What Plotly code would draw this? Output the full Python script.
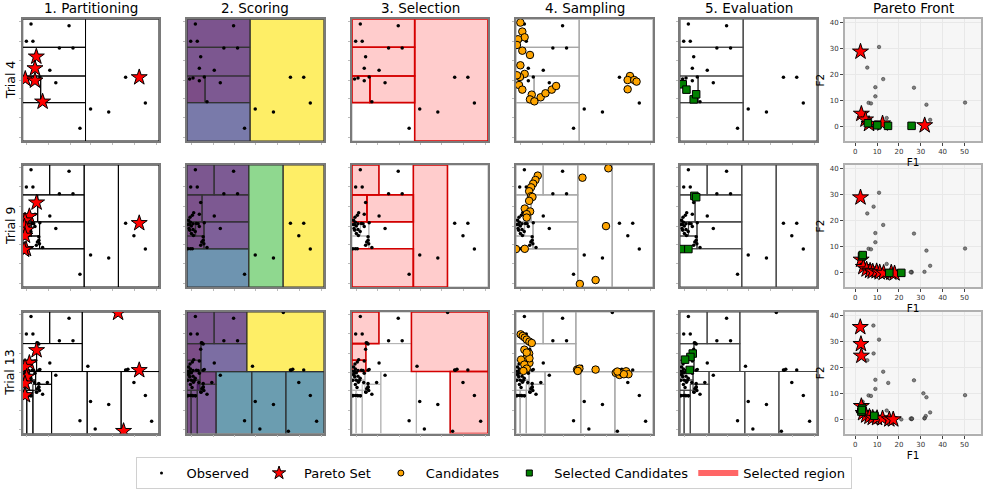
import plotly.graph_objects as go
from plotly.colors import sample_colorscale

# ---------------- text ----------------
col_titles = ["1. Partitioning", "2. Scoring", "3. Selection", "4. Sampling", "5. Evaluation", "Pareto Front"]
row_titles = ["Trial 4", "Trial 9", "Trial 13"]
legend_names = ["Observed", "Pareto Set", "Candidates", "Selected Candidates", "Selected region"]
design_ticks = [0.03, 0.19, 0.35, 0.50, 0.66, 0.82, 0.98]
f1_ticks = [0, 10, 20, 30, 40, 50]
f2_ticks = [0, 10, 20, 30, 40]

# ---------------- Trial 4 ----------------
t4_obs_x = [0.061, 0.340, 0.027, 0.075, 0.269, 0.369, 0.100, 0.090, 0.199, 0.019, 0.044, 0.090, 0.126, 0.243,
            0.146, 0.420, 0.498, 0.631, 0.755, 0.852, 0.900]
t4_obs_y = [0.962, 0.948, 0.819, 0.819, 0.764, 0.764, 0.693, 0.597, 0.581, 0.510, 0.518, 0.496, 0.526, 0.479,
            0.323, 0.104, 0.263, 0.238, 0.523, 0.523, 0.312]
t4_par_x = [0.100, 0.090, 0.019, 0.090, 0.146, 0.855]
t4_par_y = [0.693, 0.597, 0.510, 0.496, 0.323, 0.523]
t4_cand_x = [0.032, 0.046, 0.063, 0.015, 0.007, 0.046, 0.102, 0.032, 0.063, 0.029, 0.007, 0.022, 0.046, 0.115,
             0.102, 0.134, 0.180, 0.215, 0.261, 0.293, 0.832, 0.815, 0.863, 0.880, 0.815]
t4_cand_y = [0.973, 0.899, 0.852, 0.836, 0.789, 0.742, 0.707, 0.622, 0.551, 0.526, 0.540, 0.460, 0.422, 0.381,
             0.342, 0.326, 0.359, 0.392, 0.422, 0.452, 0.534, 0.501, 0.501, 0.488, 0.425]
t4_sel_x = [0.020, 0.047, 0.100, 0.118]
t4_sel_y = [0.466, 0.422, 0.342, 0.384]
t4_box_x0 = [0.000, 0.000, 0.000, 0.132, 0.000, 0.461]
t4_box_x1 = [0.461, 0.461, 0.132, 0.461, 0.461, 1.000]
t4_box_y0 = [0.770, 0.534, 0.315, 0.315, 0.000, 0.000]
t4_box_y1 = [1.000, 0.770, 0.534, 0.534, 0.315, 1.000]
t4_box_score = [0.03, 0.04, 0.00, 0.05, 0.20, 1.00]
t4_box_sel = [True, True, True, True, False, True]
t4_obs_f1 = [10.9, 5.5, 12.8, 9.2, 9.2, 6.1, 7.2, 14.4, 26.9, 32.6, 34.3, 50.3, 3.0, 5.0]
t4_obs_f2 = [30.6, 22.7, 18.3, 15.2, 11.7, 9.2, 9.0, 3.4, 15.0, 8.5, 2.7, 9.3, 4.0, 2.0]
t4_par_f1 = [2.4, 2.8, 4.7, 6.3, 12.5, 31.8]
t4_par_f2 = [28.8, 5.0, 2.8, 1.1, 1.3, 0.6]
t4_sel_f1 = [5.8, 10.1, 15.0, 25.8]
t4_sel_f2 = [1.4, 0.6, 0.4, 0.4]

# ---------------- Trial 9 ----------------
t9_obs_x = t4_obs_x + t4_sel_x + [0.049, 0.039, 0.022, 0.012, 0.025, 0.010, 0.032, 0.015, 0.044, 0.069, 0.032,
                                  0.118, 0.108, 0.123, 0.007, 0.025, 0.039, 0.081, 0.816, 0.060]
t9_obs_y = t4_obs_y + t4_sel_y + [0.608, 0.589, 0.572, 0.548, 0.531, 0.512, 0.499, 0.480, 0.471, 0.520, 0.439,
                                  0.411, 0.368, 0.354, 0.313, 0.313, 0.313, 0.518, 0.420, 0.455]
t9_par_x = [0.102, 0.049, 0.017, 0.012, 0.029, 0.017, 0.024, 0.010, 0.855]
t9_par_y = [0.692, 0.580, 0.545, 0.496, 0.469, 0.420, 0.311, 0.305, 0.523]
t9_cand_x = [0.159, 0.142, 0.125, 0.110, 0.096, 0.110, 0.120, 0.096, 0.064, 0.103, 0.078, 0.078, 0.000, 0.064,
             0.485, 0.674, 0.657, 0.581, 0.466]
t9_cand_y = [0.913, 0.877, 0.847, 0.817, 0.785, 0.744, 0.738, 0.706, 0.643, 0.619, 0.597, 0.569, 0.311, 0.313,
             0.896, 0.973, 0.499, 0.057, 0.025]
t9_sel_x = [0.105, 0.118, 0.007, 0.061]
t9_sel_y = [0.747, 0.736, 0.311, 0.311]
t9_box_x0 = [0.000, 0.198, 0.000, 0.110, 0.124, 0.000, 0.062, 0.000, 0.000, 0.451, 0.702]
t9_box_x1 = [0.198, 0.451, 0.110, 0.451, 0.451, 0.062, 0.124, 0.124, 0.451, 0.702, 1.000]
t9_box_y0 = [0.755, 0.755, 0.534, 0.534, 0.313, 0.418, 0.418, 0.313, 0.000, 0.000, 0.000]
t9_box_y1 = [1.000, 1.000, 0.755, 0.755, 0.534, 0.534, 0.534, 0.418, 0.313, 1.000, 1.000]
t9_box_score = [0.04, 0.06, 0.02, 0.05, 0.08, 0.00, 0.01, 0.02, 0.33, 0.75, 1.00]
t9_box_sel = [True, False, True, True, False, False, False, False, True, True, False]
t9_obs_f1 = t4_obs_f1 + t4_sel_f1 + [8.4, 25.8, 25.4, 31.7, 4.5, 5.5, 6.5, 7.5, 8.5, 9.5, 11.0, 12.0, 13.5,
                                     14.5, 17.0, 3.5, 12.5, 6.3, 4.7]
t9_obs_f2 = t4_obs_f2 + t4_sel_f2 + [25.3, 0.1, 0.3, 0.4, 1.8, 0.9, 0.5, 1.5, 0.3, 1.2, 0.3, 0.9, 0.2,
                                     0.6, 0.3, 3.5, 1.3, 1.1, 2.8]
t9_par_f1 = [2.4, 2.7, 3.7, 5.2, 6.8, 8.0, 9.8, 11.2, 13.0, 16.5, 18.0]
t9_par_f2 = [28.8, 5.0, 2.2, 1.3, 0.8, 0.5, 0.6, 0.2, 0.0, 0.1, -0.2]
t9_sel_f1 = [3.1, 3.4, 15.6, 21.1]
t9_sel_f2 = [6.3, 6.8, 0.0, 0.0]

# ---------------- Trial 13 ----------------
t13_obs_x = t9_obs_x + t9_sel_x + [0.703, 0.478, 0.760, 0.772, 0.946, 0.740, 0.532, 0.110, 0.118, 0.056, 0.118,
                                   0.103, 0.061, 0.044, 0.037, 0.025, 0.007, 0.181, 0.086, 0.012]
t13_obs_y = t9_obs_y + t9_sel_y + [0.995, 0.553, 0.521, 0.529, 0.101, 0.019, 0.038, 0.745, 0.521, 0.438, 0.378,
                                   0.340, 0.310, 0.310, 0.378, 0.403, 0.438, 0.419, 0.419, 0.488]
t13_par_x = [0.700, 0.102, 0.049, 0.017, 0.029, 0.017, 0.017, 0.855, 0.740]
t13_par_y = [0.993, 0.685, 0.581, 0.548, 0.466, 0.411, 0.315, 0.521, 0.020]
t13_cand_x = [0.034, 0.049, 0.064, 0.078, 0.098, 0.115, 0.061, 0.096, 0.078, 0.037, 0.098, 0.061, 0.078, 0.054,
              0.098, 0.078, 0.446, 0.463, 0.451, 0.581, 0.728, 0.755, 0.777, 0.804, 0.821, 0.787, 0.740]
t13_cand_y = [0.816, 0.803, 0.789, 0.773, 0.756, 0.745, 0.690, 0.658, 0.625, 0.608, 0.581, 0.567, 0.534, 0.515,
              0.619, 0.666, 0.526, 0.534, 0.515, 0.526, 0.499, 0.482, 0.499, 0.512, 0.488, 0.488, 0.510]
t13_sel_x = [0.093, 0.076, 0.037, 0.071]
t13_sel_y = [0.658, 0.630, 0.608, 0.523]
t13_box_x0 = [0.000, 0.198, 0.000, 0.000, 0.102, 0.437, 0.212, 0.473, 0.722, 0.095, 0.075, 0.000, 0.000, 0.000, 0.030]
t13_box_x1 = [0.198, 0.437, 0.102, 0.102, 0.437, 1.000, 0.473, 0.722, 1.000, 0.212, 0.212, 0.095, 0.095, 0.030, 0.075]
t13_box_y0 = [0.740, 0.740, 0.603, 0.510, 0.510, 0.510, 0.000, 0.000, 0.000, 0.405, 0.000, 0.440, 0.356, 0.000, 0.000]
t13_box_y1 = [1.000, 1.000, 0.740, 0.603, 0.740, 1.000, 0.510, 0.510, 0.510, 0.510, 0.405, 0.510, 0.440, 0.356, 0.356]
t13_box_score = [0.04, 0.06, 0.00, 0.03, 0.14, 1.00, 0.38, 0.38, 0.38, 0.00, 0.08, 0.02, 0.03, 0.02, 0.05]
t13_box_sel = [True, False, True, True, False, True, False, False, True, False, False, False, False, False, False]
t13_obs_f1 = t9_obs_f1 + t9_sel_f1 + [8.3, 15.1, 31.2, 32.3, 31.8, 26.0, 7.0, 9.0, 10.5, 12.0, 14.0]
t13_obs_f2 = t9_obs_f2 + t9_sel_f2 + [36.0, 14.0, 10.0, 1.3, 0.5, 0.3, 0.4, 0.3, 0.2, 0.1, 0.2]
t13_par_f1 = [2.3, 2.6, 2.8, 2.8, 3.6, 5.0, 6.5, 8.0, 10.0, 12.5, 15.6, 17.4]
t13_par_f2 = [35.4, 28.9, 24.4, 5.1, 2.4, 1.5, 1.0, 0.6, 0.5, 0.4, 0.0, 0.0]
t13_sel_f1 = [2.8, 3.2, 3.0, 8.7]
t13_sel_f2 = [3.0, 4.2, 3.6, 1.4]

TRIALS = [
    dict(ox=t4_obs_x, oy=t4_obs_y, px=t4_par_x, py=t4_par_y, cx=t4_cand_x, cy=t4_cand_y, sx=t4_sel_x, sy=t4_sel_y,
         bx0=t4_box_x0, bx1=t4_box_x1, by0=t4_box_y0, by1=t4_box_y1, bs=t4_box_score, bsel=t4_box_sel,
         of1=t4_obs_f1, of2=t4_obs_f2, pf1=t4_par_f1, pf2=t4_par_f2, sf1=t4_sel_f1, sf2=t4_sel_f2),
    dict(ox=t9_obs_x, oy=t9_obs_y, px=t9_par_x, py=t9_par_y, cx=t9_cand_x, cy=t9_cand_y, sx=t9_sel_x, sy=t9_sel_y,
         bx0=t9_box_x0, bx1=t9_box_x1, by0=t9_box_y0, by1=t9_box_y1, bs=t9_box_score, bsel=t9_box_sel,
         of1=t9_obs_f1, of2=t9_obs_f2, pf1=t9_par_f1, pf2=t9_par_f2, sf1=t9_sel_f1, sf2=t9_sel_f2),
    dict(ox=t13_obs_x, oy=t13_obs_y, px=t13_par_x, py=t13_par_y, cx=t13_cand_x, cy=t13_cand_y, sx=t13_sel_x,
         sy=t13_sel_y, bx0=t13_box_x0, bx1=t13_box_x1, by0=t13_box_y0, by1=t13_box_y1, bs=t13_box_score,
         bsel=t13_box_sel, of1=t13_obs_f1, of2=t13_obs_f2, pf1=t13_par_f1, pf2=t13_par_f2, sf1=t13_sel_f1,
         sf2=t13_sel_f2),
]

# ---------------- layout geometry ----------------
W, H = 987, 493
COL_PX = [(22.7, 159), (187, 324), (352, 488), (516, 653), (680, 817), (845, 981)]
ROW_PX = [(19.3, 141), (165, 287), (312, 433.5)]
FONT = "DejaVu Sans"


def names(idx):
    return ("x" if idx == 1 else f"x{idx}", "y" if idx == 1 else f"y{idx}")


def viridis_rgba(s, a=0.7):
    c = sample_colorscale("Viridis", [s])[0]
    return c.replace("rgb(", "rgba(").replace(")", f",{a})")


fig = go.Figure()
layout = dict(width=W, height=H, margin=dict(l=0, r=0, t=0, b=0, autoexpand=False), paper_bgcolor="white",
              plot_bgcolor="white", font=dict(family=FONT, color="black"), showlegend=True)
shapes = []
annotations = []

for r, T in enumerate(TRIALS):
    for c in range(6):
        idx = r * 6 + c + 1
        xa, ya = names(idx)
        xk = "xaxis" if idx == 1 else f"xaxis{idx}"
        yk = "yaxis" if idx == 1 else f"yaxis{idx}"
        xd = [COL_PX[c][0] / W, COL_PX[c][1] / W]
        yd = [1 - ROW_PX[r][1] / H, 1 - ROW_PX[r][0] / H]
        if c < 5:
            common = dict(showgrid=False, zeroline=False, showticklabels=False, ticks="outside", ticklen=2,
                          tickcolor="#bbbbbb", tickwidth=1, tickvals=design_ticks, showline=True, mirror=True,
                          linecolor="#7a7a7a", linewidth=1.5, range=[0, 1], fixedrange=True, automargin=False)
            layout[xk] = dict(domain=xd, anchor=ya, **common)
            layout[yk] = dict(domain=yd, anchor=xa, **common)
            n = len(T["bx0"])
            order = list(range(n))
            if c == 2:
                order = [i for i in range(n) if not T["bsel"][i]] + [i for i in range(n) if T["bsel"][i]]
            for i in order:
                sh = dict(type="rect", xref=xa, yref=ya, x0=T["bx0"][i], x1=T["bx1"][i], y0=T["by0"][i],
                          y1=T["by1"][i], layer="below")
                if c == 0:
                    sh.update(fillcolor="rgba(0,0,0,0)", line=dict(color="black", width=1))
                elif c == 1:
                    sh.update(fillcolor=viridis_rgba(T["bs"][i]), line=dict(color="#333333", width=1.2))
                elif c == 2:
                    if T["bsel"][i]:
                        sh.update(fillcolor="rgba(255,0,0,0.2)", line=dict(color="#d40000", width=1.6))
                    else:
                        sh.update(fillcolor="rgba(0,0,0,0)", line=dict(color="#b5b5b5", width=1))
                elif c == 3:
                    sh.update(fillcolor="rgba(0,0,0,0)", line=dict(color="#a8a8a8", width=1.2))
                else:
                    sh.update(fillcolor="rgba(0,0,0,0)", line=dict(color="#444444", width=1.1))
                shapes.append(sh)
            fig.add_trace(go.Scatter(x=T["ox"], y=T["oy"], mode="markers", xaxis=xa, yaxis=ya, showlegend=False,
                                     hoverinfo="skip", marker=dict(size=3.5, color="black")))
            if c == 0:
                fig.add_trace(go.Scatter(x=T["px"], y=T["py"], mode="markers", xaxis=xa, yaxis=ya,
                                         showlegend=False, hoverinfo="skip",
                                         marker=dict(symbol="star", size=12, color="red",
                                                     line=dict(color="black", width=1))))
            elif c == 3:
                fig.add_trace(go.Scatter(x=T["cx"], y=T["cy"], mode="markers", xaxis=xa, yaxis=ya,
                                         showlegend=False, hoverinfo="skip",
                                         marker=dict(symbol="circle", size=7.5, color="#FFA500",
                                                     line=dict(color="black", width=1))))
            elif c == 4:
                fig.add_trace(go.Scatter(x=T["sx"], y=T["sy"], mode="markers", xaxis=xa, yaxis=ya,
                                         showlegend=False, hoverinfo="skip",
                                         marker=dict(symbol="square", size=7.5, color="#008000",
                                                     line=dict(color="black", width=1))))
        else:
            pc = dict(zeroline=False, showline=True, mirror=True, linecolor="#b0b0b0", linewidth=2,
                      showgrid=True, gridcolor="#e8e8e8", gridwidth=0.6, ticks="outside", ticklen=3,
                      tickcolor="#444444", tickfont=dict(size=7, color="#333333"), fixedrange=True,
                      automargin=False)
            layout[xk] = dict(domain=xd, anchor=ya, range=[-4.7, 57.6], tickvals=f1_ticks,
                              title=dict(text="F1", font=dict(size=10.5), standoff=2), **pc)
            layout[yk] = dict(domain=yd, anchor=xa, range=[-5.4, 41.2], tickvals=f2_ticks,
                              title=dict(text="F2", font=dict(size=10.5), standoff=3), **pc)
            shapes.append(dict(type="rect", xref=f"{xa} domain", yref=f"{ya} domain", x0=0, x1=1, y0=0, y1=1,
                               fillcolor="#f6f6f6", line=dict(width=0), layer="below"))
            fig.add_trace(go.Scatter(x=T["of1"], y=T["of2"], mode="markers", xaxis=xa, yaxis=ya, showlegend=False,
                                     hoverinfo="skip",
                                     marker=dict(size=3.5, color="rgba(100,100,100,0.8)",
                                                 line=dict(color="rgba(30,30,30,0.8)", width=0.6))))
            fig.add_trace(go.Scatter(x=T["pf1"], y=T["pf2"], mode="markers", xaxis=xa, yaxis=ya,
                                     showlegend=False, hoverinfo="skip",
                                     marker=dict(symbol="star", size=12, color="red",
                                                 line=dict(color="black", width=1))))
            fig.add_trace(go.Scatter(x=T["sf1"], y=T["sf2"], mode="markers", xaxis=xa, yaxis=ya,
                                     showlegend=False, hoverinfo="skip",
                                     marker=dict(symbol="square", size=7.5, color="#008000",
                                                 line=dict(color="black", width=1))))

# column titles and row labels
for c, t in enumerate(col_titles):
    annotations.append(dict(text=t, x=(COL_PX[c][0] + COL_PX[c][1]) / 2 / W, y=1 - (ROW_PX[0][0] - 1.5) / H,
                            xref="paper", yref="paper", xanchor="center", yanchor="bottom", showarrow=False,
                            font=dict(size=13.5, family=FONT, color="black")))
for r, t in enumerate(row_titles):
    annotations.append(dict(text=t, x=10 / W, y=1 - (ROW_PX[r][0] + ROW_PX[r][1]) / 2 / H, xref="paper",
                            yref="paper", xanchor="center", yanchor="middle", textangle=-90, showarrow=False,
                            font=dict(size=12.5, family=FONT, color="black")))

# legend-only traces
fig.add_trace(go.Scatter(x=[None], y=[None], mode="markers", name=legend_names[0],
                         marker=dict(size=3, color="black")))
fig.add_trace(go.Scatter(x=[None], y=[None], mode="markers", name=legend_names[1],
                         marker=dict(symbol="star", size=10, color="red", line=dict(color="black", width=1))))
fig.add_trace(go.Scatter(x=[None], y=[None], mode="markers", name=legend_names[2],
                         marker=dict(symbol="circle", size=6, color="#FFA500", line=dict(color="black", width=1))))
fig.add_trace(go.Scatter(x=[None], y=[None], mode="markers", name=legend_names[3],
                         marker=dict(symbol="square", size=6, color="#008000", line=dict(color="black", width=1))))
fig.add_trace(go.Scatter(x=[None], y=[None], mode="none", fill="toself", name=legend_names[4],
                         fillcolor="rgba(255,0,0,0.6)"))

layout["legend"] = dict(orientation="h", x=0.5, xanchor="center", y=0.008, yanchor="bottom",
                        bordercolor="#d0d0d0", borderwidth=1, font=dict(size=13, family=FONT),
                        itemsizing="trace", itemwidth=40, bgcolor="white")
layout["shapes"] = shapes
layout["annotations"] = annotations
fig.update_layout(**layout)
fig.write_html("out.html", config={"displayModeBar": False},
               post_script="document.body.style.margin='0px';document.body.style.padding='0px';")
